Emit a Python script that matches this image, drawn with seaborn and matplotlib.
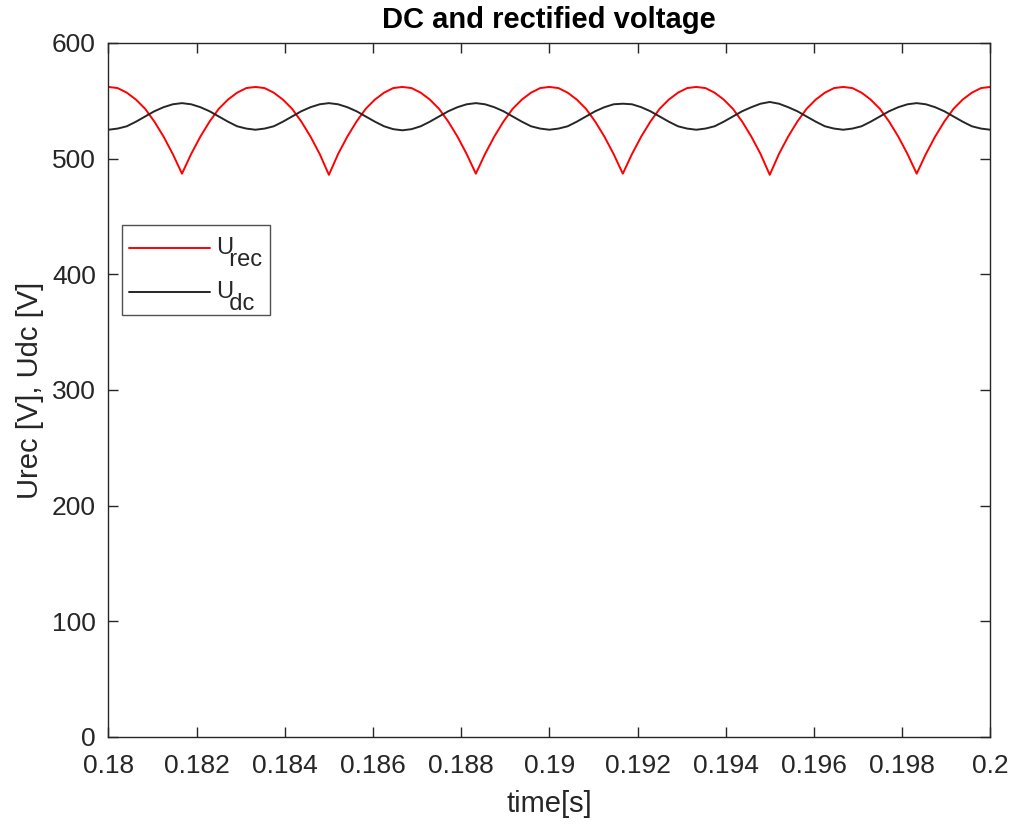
import numpy as np
import pandas as pd
import matplotlib
matplotlib.use("Agg")
import matplotlib.pyplot as plt
from matplotlib.lines import Line2D
from matplotlib.legend_handler import HandlerLine2D
import seaborn as sns

# Sampled waveforms, 97 samples between 0.18 s and 0.2 s
time_s = np.linspace(0.18, 0.2, 97)

u_rec = [
    562, 561, 557, 551, 543, 532, 519, 504, 487,
    504, 519, 532, 543, 551, 557, 561, 562,
    561, 557, 551, 543, 532, 519, 504, 486,
    504, 519, 532, 543, 551, 557, 561, 562,
    561, 557, 551, 543, 532, 519, 504, 487,
    504, 519, 532, 543, 551, 557, 561, 562,
    561, 557, 551, 543, 532, 519, 504, 487,
    504, 519, 532, 543, 551, 557, 561, 562,
    561, 557, 551, 543, 532, 519, 504, 486,
    504, 519, 532, 543, 551, 557, 561, 562,
    561, 557, 551, 543, 532, 519, 504, 487,
    504, 519, 532, 543, 551, 557, 561, 562,
]

u_dc = [
    525, 526, 528, 532, 536.5, 541, 544.5, 547, 548,
    547, 544.5, 541, 536.5, 532, 528, 526, 525,
    526, 528, 532, 536.5, 541, 544.5, 547, 548,
    547, 544.5, 541, 536.5, 532, 528, 525.5, 524.5,
    525.5, 528, 532, 536.5, 541, 544.5, 547, 548,
    547, 544.5, 541, 536.5, 532, 528, 526, 525,
    526, 528, 532, 536.5, 541, 544.5, 547, 547.5,
    547, 544.5, 541, 536.5, 532, 528, 526, 525,
    526, 528, 532, 536.5, 541, 544.5, 547.5, 549,
    547.5, 544.5, 541, 536.5, 532, 528, 526, 525,
    526, 528, 532, 536.5, 541, 544.5, 547, 548,
    547, 544.5, 541, 536.5, 532, 528, 526, 525,
]

series_names = ["Urec", "Udc"]
# legend labels: blank top line for padding, symbol, then the lowered subscript
legend_labels = ["\nU\n  rec", "\nU\n  dc"]
series_colors = ["#ff0000", "#262626"]

x_ticks = [0.18, 0.182, 0.184, 0.186, 0.188, 0.19, 0.192, 0.194, 0.196, 0.198, 0.2]
x_tick_labels = ["0.18", "0.182", "0.184", "0.186", "0.188", "0.19",
                 "0.192", "0.194", "0.196", "0.198", "0.2"]
y_ticks = [0, 100, 200, 300, 400, 500, 600]

df = pd.DataFrame({
    "time": np.concatenate([time_s, time_s]),
    "voltage": np.concatenate([u_rec, u_dc]),
    "signal": [series_names[0]] * len(u_rec) + [series_names[1]] * len(u_dc),
})

sns.set_theme(style="ticks")
fg = "#262626"
plt.rcParams.update({
    "font.family": ["Liberation Sans", "DejaVu Sans"],
    "axes.edgecolor": fg,
    "xtick.color": fg,
    "ytick.color": fg,
    "axes.labelcolor": fg,
})

fig = plt.figure(figsize=(10.14, 8.25), dpi=100)
ax = fig.add_axes([0.107, 0.1067, 0.8695, 0.8412])

sns.lineplot(data=df, x="time", y="voltage", hue="signal",
             palette=dict(zip(series_names, series_colors)),
             linewidth=1.4, ax=ax, legend=True)

ax.set_xlim(0.18, 0.2)
ax.set_ylim(0, 600)
ax.set_xticks(x_ticks)
ax.set_xticklabels(x_tick_labels)
ax.set_yticks(y_ticks)
ax.tick_params(direction="in", length=7, width=1, top=True, right=True,
               labelsize=19)
ax.tick_params(axis="x", pad=12)
ax.tick_params(axis="y", pad=9)
for s in ax.spines.values():
    s.set_linewidth(1.0)
    s.set_visible(True)

ax.set_xlabel("time[s]", fontsize=21, labelpad=9)
ax.set_ylabel("Urec [V], Udc [V]", fontsize=21, labelpad=6)
ax.set_title("DC and rectified voltage", fontsize=21, fontweight="bold",
             color="black", pad=11)

handles, _ = ax.get_legend_handles_labels()
leg = ax.legend(handles, legend_labels, loc="upper left",
                bbox_to_anchor=(0.015, 0.5, 0.1679, 0.238), mode="expand",
                borderaxespad=0, fontsize=17, frameon=True, fancybox=False,
                handlelength=3.73, handletextpad=0.25,
                labelspacing=-0.085, borderpad=0.0,
                handler_map={Line2D: HandlerLine2D(xpad=0.3)})
leg.get_frame().set_edgecolor(fg)
leg.get_frame().set_linewidth(1.0)
for t in leg.get_texts():
    t.set_color(fg)
    t.set_linespacing(0.41)

fig.savefig("out.png", dpi=100, facecolor="white")
